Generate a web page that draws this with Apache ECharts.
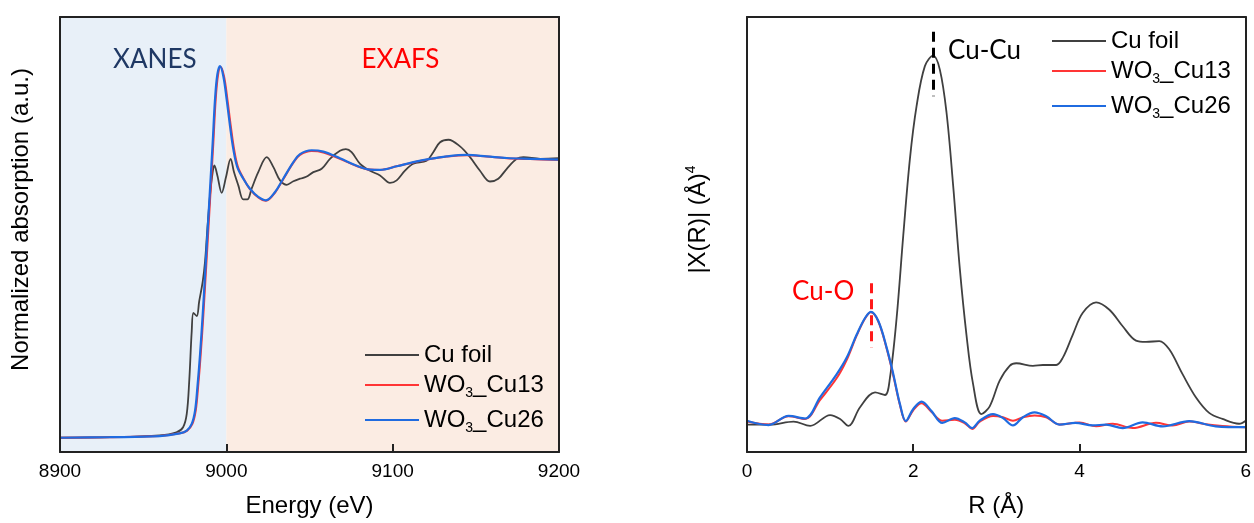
<!DOCTYPE html>
<html>
<head>
<meta charset="utf-8">
<script src="https://cdn.jsdelivr.net/npm/echarts@6/dist/echarts.min.js"></script>
<style>
  html, body { margin: 0; padding: 0; background: #ffffff; }
  #chart { width: 1254px; height: 523px; }
</style>
</head>
<body>
<div id="chart"></div>
<script>
// ---------- Left panel: XANES / EXAFS spectra ----------
const seriesNames = ['Cu foil', 'WO3_Cu13', 'WO3_Cu26'];
const energyTicks = [8900, 9000, 9100, 9200];
const rTicks = [0, 2, 4, 6];

const eCuFoil = [8900, 8930, 8960, 8970, 8974, 8976.2, 8977.7, 8979.2, 8980.2, 8982.2, 8983.7, 8985.8, 8987.2, 8988.6, 8990.2, 8991.8, 8992.8, 8994.6, 8997.2, 8999.8, 9002.6, 9004.6, 9007.2, 9010.2, 9012.6, 9015.2, 9019.2, 9024.3, 9028.3, 9032.3, 9036.3, 9040.3, 9044.3, 9048.0, 9052.3, 9057.3, 9062.3, 9068.3, 9071.9, 9075.3, 9080.4, 9086.4, 9092.4, 9098.4, 9102.4, 9107.4, 9112.4, 9120.4, 9124.4, 9128.5, 9133.5, 9140.5, 9146.5, 9152.5, 9158.5, 9163.5, 9168.6, 9174.6, 9178.6, 9188.6, 9200];
const muCuFoil = [-0.006, -0.004, 0.003, 0.014, 0.032, 0.08, 0.2, 0.38, 0.446, 0.434, 0.488, 0.559, 0.631, 0.751, 0.871, 0.955, 0.979, 0.943, 0.880, 0.937, 1.003, 0.955, 0.907, 0.856, 0.856, 0.895, 0.955, 1.009, 0.973, 0.925, 0.909, 0.922, 0.931, 0.938, 0.955, 0.967, 1.003, 1.032, 1.038, 1.027, 0.985, 0.960, 0.943, 0.916, 0.925, 0.960, 0.985, 0.996, 1.027, 1.063, 1.072, 1.048, 1.009, 0.960, 0.921, 0.931, 0.967, 1.003, 1.009, 1.003, 1.005];

const eCu13 = [8900, 8930, 8960, 8972, 8976.5, 8979.6, 8981.6, 8983.0, 8984.6, 8986.2, 8987.6, 8989.0, 8990.6, 8992.2, 8993.6, 8995.0, 8996.5, 8998.6, 9000.6, 9002.6, 9004.6, 9006.9, 9010.4, 9014.2, 9019.2, 9023.8, 9029.3, 9034.2, 9040.3, 9044.3, 9051.3, 9058.3, 9068.3, 9078.4, 9086.4, 9092.4, 9102.4, 9112.4, 9122.4, 9132.5, 9144.5, 9156.5, 9168.6, 9182.6, 9200];
const muCu13 = [-0.006, -0.004, 0, 0.01, 0.02, 0.044, 0.092, 0.176, 0.296, 0.44, 0.583, 0.727, 0.895, 1.062, 1.218, 1.306, 1.336, 1.302, 1.220, 1.125, 1.040, 0.975, 0.931, 0.893, 0.863, 0.851, 0.881, 0.929, 0.989, 1.017, 1.031, 1.026, 1.003, 0.977, 0.964, 0.963, 0.976, 0.990, 1.002, 1.011, 1.016, 1.011, 1.005, 1.002, 0.999];

const eCu26 = [8900, 8930, 8960, 8972, 8976.2, 8979.2, 8981.2, 8982.6, 8984.2, 8985.8, 8987.2, 8988.6, 8990.2, 8991.8, 8993.2, 8994.6, 8996.2, 8998.2, 9000.2, 9002.2, 9004.2, 9006.6, 9010.2, 9014.2, 9019.2, 9023.8, 9029.3, 9034.2, 9040.3, 9044.3, 9051.3, 9058.3, 9068.3, 9078.4, 9086.4, 9092.4, 9102.4, 9112.4, 9122.4, 9132.5, 9144.5, 9156.5, 9168.6, 9182.6, 9200];
const muCu26 = [-0.006, -0.004, 0, 0.01, 0.02, 0.044, 0.092, 0.176, 0.296, 0.44, 0.583, 0.727, 0.895, 1.062, 1.218, 1.308, 1.338, 1.302, 1.218, 1.122, 1.038, 0.973, 0.931, 0.895, 0.865, 0.853, 0.883, 0.931, 0.991, 1.02, 1.034, 1.029, 1.005, 0.978, 0.964, 0.963, 0.976, 0.991, 1.003, 1.012, 1.017, 1.012, 1.006, 1.003, 1.0];

// ---------- Right panel: Fourier transform |X(R)| ----------
const rCuFoil = [0.00, 0.28, 0.56, 0.76, 1.00, 1.12, 1.22, 1.36, 1.54, 1.66, 1.72, 1.80, 1.88, 1.96, 2.04, 2.14, 2.24, 2.32, 2.40, 2.48, 2.56, 2.64, 2.72, 2.82, 2.92, 3.04, 3.16, 3.24, 3.44, 3.56, 3.72, 3.80, 3.92, 4.04, 4.20, 4.36, 4.52, 4.68, 4.80, 4.96, 5.08, 5.24, 5.40, 5.56, 5.72, 5.92, 6.00];
const chiCuFoil = [0.63, 0.63, 0.70, 0.60, 0.85, 0.76, 0.60, 1.03, 1.37, 1.31, 1.71, 3.08, 4.98, 6.74, 7.95, 8.87, 9.11, 8.79, 7.81, 6.13, 4.22, 2.70, 1.56, 0.87, 1.05, 1.64, 1.98, 2.04, 1.98, 2.00, 2.00, 2.17, 2.70, 3.20, 3.44, 3.27, 2.89, 2.56, 2.53, 2.55, 2.36, 1.79, 1.26, 0.90, 0.76, 0.65, 0.72];

const rCu13 = [0.00, 0.26, 0.50, 0.70, 0.88, 1.08, 1.20, 1.32, 1.42, 1.49, 1.58, 1.68, 1.76, 1.84, 1.91, 2.00, 2.10, 2.22, 2.35, 2.50, 2.62, 2.71, 2.80, 2.96, 3.08, 3.20, 3.32, 3.46, 3.60, 3.76, 4.00, 4.20, 4.40, 4.64, 4.92, 5.12, 5.32, 5.52, 5.72, 6.00];
const chiCu13 = [0.70, 0.63, 0.82, 0.76, 1.20, 1.70, 2.12, 2.68, 3.07, 3.21, 3.00, 2.38, 1.76, 1.08, 0.70, 0.96, 1.12, 0.92, 0.72, 0.74, 0.66, 0.53, 0.70, 0.83, 0.80, 0.72, 0.80, 0.84, 0.80, 0.63, 0.68, 0.59, 0.65, 0.55, 0.67, 0.61, 0.70, 0.64, 0.60, 0.57];

const rCu26 = [0.00, 0.26, 0.50, 0.70, 0.88, 1.08, 1.20, 1.32, 1.42, 1.49, 1.58, 1.68, 1.76, 1.84, 1.91, 2.00, 2.10, 2.22, 2.35, 2.50, 2.62, 2.71, 2.80, 2.96, 3.08, 3.20, 3.32, 3.46, 3.60, 3.76, 3.95, 4.16, 4.32, 4.52, 4.76, 5.00, 5.32, 5.64, 6.00];
const chiCu26 = [0.72, 0.62, 0.83, 0.77, 1.26, 1.79, 2.17, 2.70, 3.08, 3.22, 3.01, 2.40, 1.79, 1.10, 0.71, 0.99, 1.16, 0.94, 0.67, 0.78, 0.68, 0.55, 0.72, 0.87, 0.78, 0.61, 0.80, 0.91, 0.82, 0.63, 0.67, 0.61, 0.63, 0.55, 0.68, 0.59, 0.71, 0.59, 0.57];

// Annotations
const regionLabels = [
  { text: 'XANES', x: 8957, y: 1.363, color: '#1F3864' },
  { text: 'EXAFS', x: 9104.7, y: 1.363, color: '#FF0000' }
];
const regionBounds = [[8900, 9000, '#E8F0F8'], [9000, 9200, '#FBECE3']];
const bondLabels = [
  { text: 'Cu-Cu', x: 2.857, y: 9.235, color: '#000000' },
  { text: 'Cu-O', x: 0.916, y: 3.676, color: '#FF0000' }
];
const bondLines = [
  { x: 2.245, y1: 9.66, y2: 8.18, color: '#000000' },
  { x: 1.50, y1: 3.88, y2: 2.40, color: '#FF1A1A' }
];

const colors = ['#404040', '#FF3535', '#1F6BE0'];
const widths = [1.8, 2, 2.2];
const ARIAL = '"Liberation Sans", Arial, sans-serif';
const CALI = 'Lato, "Open Sans", sans-serif';

const zip = (xs, ys) => xs.map((x, i) => [x, ys[i]]);

const chart = echarts.init(document.getElementById('chart'), null, { renderer: 'canvas' });

const frameLine = { show: true, onZero: false, lineStyle: { color: '#222', width: 2 } };

function bottomAxis(gi, min, max, interval, name) {
  return {
    type: 'value', gridIndex: gi, min, max, interval, position: 'bottom', z: 10,
    axisLine: frameLine,
    axisTick: { show: true, inside: true, length: 8, lineStyle: { color: '#222', width: 2 } },
    axisLabel: { show: true, fontSize: 19, color: '#000', fontFamily: ARIAL, margin: 10, formatter: v => String(v) },
    splitLine: { show: false },
    name, nameLocation: 'middle', nameGap: 42,
    nameTextStyle: { fontSize: 24, color: '#000', fontFamily: ARIAL }
  };
}
function topAxis(gi, min, max) {
  return {
    type: 'value', gridIndex: gi, min, max, position: 'top', z: 10,
    axisLine: frameLine, axisTick: { show: false }, axisLabel: { show: false }, splitLine: { show: false }
  };
}
function leftAxis(gi, min, max, name, rich) {
  return {
    type: 'value', gridIndex: gi, min, max, position: 'left', z: 10,
    axisLine: frameLine, axisTick: { show: false }, axisLabel: { show: false }, splitLine: { show: false },
    name, nameLocation: 'middle', nameRotate: 90, nameGap: 27,
    nameTextStyle: Object.assign({ fontSize: 24, color: '#000', fontFamily: ARIAL, padding: [0, 0, 0, 30] }, rich ? { rich } : {})
  };
}
function rightAxis(gi, min, max) {
  return {
    type: 'value', gridIndex: gi, min, max, position: 'right', z: 10,
    axisLine: frameLine, axisTick: { show: false }, axisLabel: { show: false }, splitLine: { show: false }
  };
}

const legendRich = {
  n: { fontSize: 24, lineHeight: 26, fontFamily: ARIAL, color: '#000' },
  s: { fontSize: 14, lineHeight: 14, fontFamily: ARIAL, color: '#000', padding: [18, 0, 2, 0] }
};
function legendFmt(name) {
  if (name.indexOf('WO3') === 0) return '{n|WO}{s|3}{n|' + name.slice(3) + '}';
  return '{n|' + name + '}';
}
function legendCfg(left, top) {
  return {
    left, top, orient: 'vertical', padding: 0, itemGap: 1, itemWidth: 54, itemHeight: 2,
    icon: 'rect',
    data: seriesNames, formatter: legendFmt, selectedMode: false,
    textStyle: { fontSize: 24, fontFamily: ARIAL, color: '#000', rich: legendRich }
  };
}

const leftData = [zip(eCuFoil, muCuFoil), zip(eCu13, muCu13), zip(eCu26, muCu26)];
const rightData = [zip(rCuFoil, chiCuFoil), zip(rCu13, chiCu13), zip(rCu26, chiCu26)];

const series = [];
seriesNames.forEach((nm, i) => {
  const s = {
    name: nm, type: 'line', xAxisIndex: 0, yAxisIndex: 0, data: leftData[i],
    symbol: 'none', smooth: 0.35, z: 3 + i,
    lineStyle: { color: colors[i], width: widths[i] }, itemStyle: { color: colors[i] }
  };
  if (i === 0) {
    s.markArea = {
      silent: true,
      data: regionBounds.map(b => [{ xAxis: b[0], itemStyle: { color: b[2] } }, { xAxis: b[1] }])
    };
    s.markPoint = {
      silent: true, symbol: 'rect', symbolSize: 1, itemStyle: { color: 'rgba(0,0,0,0)' },
      data: regionLabels.map(l => ({
        coord: [l.x, l.y],
        label: { show: true, position: 'inside', formatter: l.text, color: l.color, fontSize: 26, fontFamily: CALI }
      }))
    };
  }
  series.push(s);
});
seriesNames.forEach((nm, i) => {
  const s = {
    name: nm, type: 'line', xAxisIndex: 2, yAxisIndex: 2, data: rightData[i],
    symbol: 'none', smooth: 0.35, z: 3 + i,
    lineStyle: { color: colors[i], width: widths[i] }, itemStyle: { color: colors[i] }
  };
  if (i === 0) {
    s.markLine = {
      silent: true, symbol: 'none', label: { show: false },
      data: bondLines.map(b => [
        { coord: [b.x, b.y1], lineStyle: { color: b.color, width: 3, type: [10, 6] } },
        { coord: [b.x, b.y2] }
      ])
    };
    s.markPoint = {
      silent: true, symbol: 'rect', symbolSize: 1, itemStyle: { color: 'rgba(0,0,0,0)' },
      data: bondLabels.map(l => ({
        coord: [l.x, l.y],
        label: { show: true, position: 'inside', formatter: l.text, color: l.color, fontSize: 26, fontFamily: CALI }
      }))
    };
  }
  series.push(s);
});

const yNameRich = {
  n: { fontSize: 24, fontFamily: ARIAL, color: '#000' },
  sup: { fontSize: 14, fontFamily: ARIAL, color: '#000', padding: [0, 0, 14, 0] }
};

chart.setOption({
  animation: false,
  backgroundColor: '#ffffff',
  grid: [
    { left: 60, top: 17, width: 499, height: 438 },
    { left: 747, top: 17, width: 500, height: 438 }
  ],
  xAxis: [
    bottomAxis(0, energyTicks[0], energyTicks[energyTicks.length - 1], energyTicks[1] - energyTicks[0], 'Energy (eV)'),
    topAxis(0, energyTicks[0], energyTicks[energyTicks.length - 1]),
    bottomAxis(1, rTicks[0], rTicks[rTicks.length - 1], rTicks[1] - rTicks[0], 'R (Å)'),
    topAxis(1, rTicks[0], rTicks[rTicks.length - 1])
  ],
  yAxis: [
    leftAxis(0, -0.0575, 1.516, 'Normalized absorption (a.u.)'),
    rightAxis(0, -0.0575, 1.516),
    Object.assign(leftAxis(1, 0, 10, '{n||X(R)| (Å)}{sup|4}', yNameRich), { nameGap: 35 }),
    rightAxis(1, 0, 10)
  ],
  legend: [legendCfg(365, 343), legendCfg(1052, 29)],
  series
});
</script>
</body>
</html>
